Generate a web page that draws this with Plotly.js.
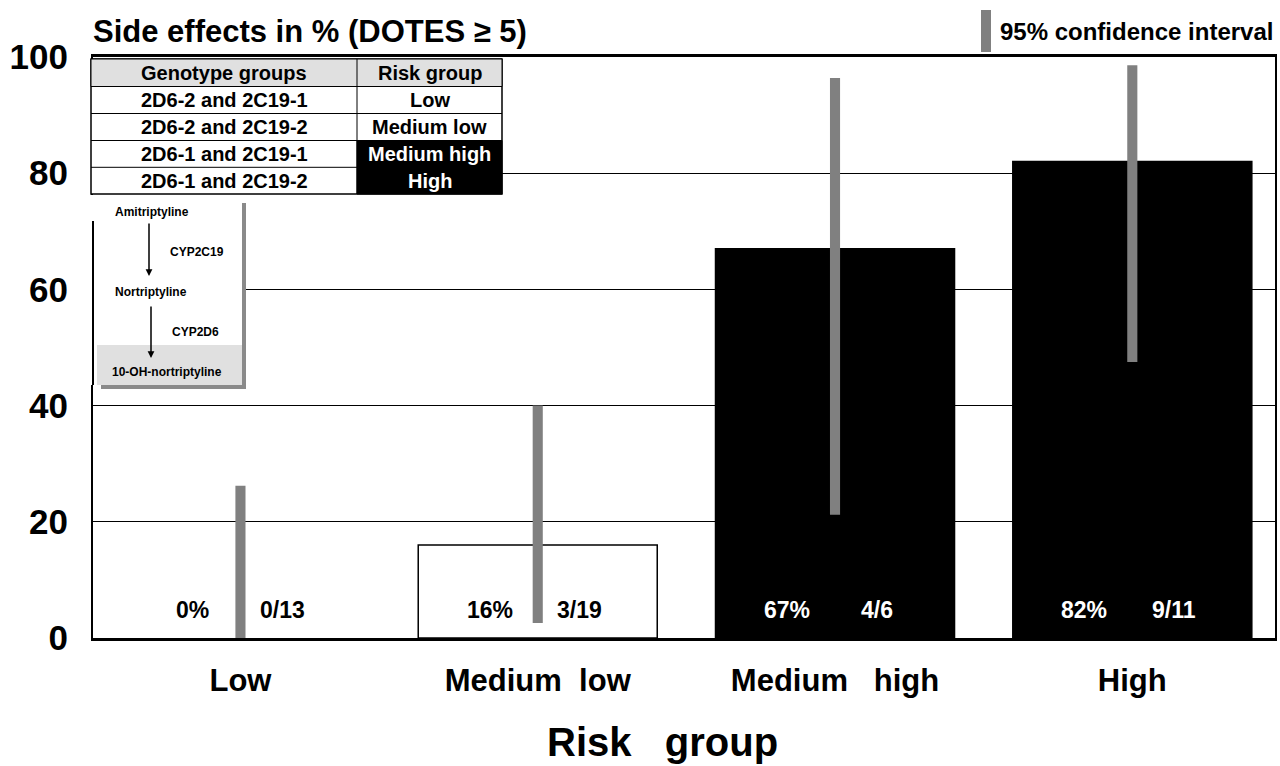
<!DOCTYPE html>
<html>
<head>
<meta charset="utf-8">
<script src="https://cdn.plot.ly/plotly-3.0.1.min.js"></script>
<style>html,body{margin:0;padding:0;background:#fff;}#chart{width:1280px;height:766px;}</style>
</head>
<body>
<div id="chart"></div>
<script>
// ---- data ----
const categories = ["Low", "Medium low", "Medium high", "High"];
const categoryLabels = ["Low", "Medium\u00a0\u00a0low", "Medium\u00a0\u00a0\u00a0high", "High"];
const percentSideEffects = [0, 16, 67, 82];
const ciLower = [0, 2.6, 21.2, 47.5];
const ciUpper = [26.2, 40, 96.4, 98.6];
const percentLabels = ["0%", "16%", "67%", "82%"];
const countLabels = ["0/13", "3/19", "4/6", "9/11"];
const barFill = ["#ffffff", "#ffffff", "#000000", "#000000"];
const labelColor = ["#000000", "#000000", "#ffffff", "#ffffff"];
const genotypeGroups = ["2D6-2 and 2C19-1", "2D6-2 and 2C19-2", "2D6-1 and 2C19-1", "2D6-1 and 2C19-2"];
const riskGroups = ["Low", "Medium low", "Medium high", "High"];
const pathwaySteps = ["Amitriptyline", "Nortriptyline", "10-OH-nortriptyline"];
const pathwayEnzymes = ["CYP2C19", "CYP2D6"];

// ---- geometry helpers (pixel -> paper) ----
const L = 93, R = 1275, T = 57, B = 638;
const px = x => (x - L) / (R - L);
const py = y => (B - y) / (B - T);
const FONT = "Liberation Sans, Arial, sans-serif";

const traces = [
  {
    type: "bar", x: categories, y: percentSideEffects, width: 0.804,
    marker: {color: barFill, line: {color: "#000", width: percentSideEffects.map(v => v > 0 ? 1.5 : 0)}},
    hoverinfo: "x+y", showlegend: false
  },
  {
    type: "bar", x: categories, base: ciLower,
    y: ciUpper.map((u, i) => u - ciLower[i]), width: 0.034,
    marker: {color: "#808080", line: {width: 0}},
    showlegend: false, hoverinfo: "skip"
  }
];

const shapes = [];
const annotations = [];

// bar labels
categories.forEach((c, i) => {
  annotations.push({x: c, y: 0, xref: "x", yref: "y", text: percentLabels[i], showarrow: false,
    xshift: -48, yshift: 28, font: {family: FONT, size: 23, color: labelColor[i], weight: "bold"}});
  annotations.push({x: c, y: 0, xref: "x", yref: "y", text: countLabels[i], showarrow: false,
    xshift: 42, yshift: 28, font: {family: FONT, size: 23, color: labelColor[i], weight: "bold"}});
});

// ---- genotype table ----
const tx0 = 91, txs = 357, tx1 = 502;
const rowsY = [59, 86.5, 113.5, 140.5, 167.3, 194];
shapes.push({type: "rect", xref: "paper", yref: "paper", x0: px(tx0), x1: px(tx1), y0: py(rowsY[5]), y1: py(rowsY[0]),
  fillcolor: "#fff", line: {color: "#000", width: 1.5}, layer: "above"});
shapes.push({type: "rect", xref: "paper", yref: "paper", x0: px(tx0), x1: px(tx1), y0: py(rowsY[1]), y1: py(rowsY[0]),
  fillcolor: "#e0e0e0", line: {color: "#000", width: 1}, layer: "above"});
shapes.push({type: "rect", xref: "paper", yref: "paper", x0: px(txs), x1: px(tx1), y0: py(rowsY[5]), y1: py(rowsY[3]),
  fillcolor: "#000", line: {color: "#000", width: 1}, layer: "above"});
[2, 3].forEach(k => shapes.push({type: "line", xref: "paper", yref: "paper", x0: px(tx0), x1: px(tx1), y0: py(rowsY[k]), y1: py(rowsY[k]),
  line: {color: "#000", width: 1}, layer: "above"}));
shapes.push({type: "line", xref: "paper", yref: "paper", x0: px(tx0), x1: px(txs), y0: py(rowsY[4]), y1: py(rowsY[4]),
  line: {color: "#000", width: 1}, layer: "above"});
shapes.push({type: "line", xref: "paper", yref: "paper", x0: px(txs), x1: px(txs), y0: py(rowsY[5]), y1: py(rowsY[0]),
  line: {color: "#000", width: 1}, layer: "above"});
const colC1 = (tx0 + txs) / 2, colC2 = (txs + tx1) / 2;
const tableFont = (c) => ({family: FONT, size: 20, color: c, weight: "bold"});
annotations.push({xref: "paper", yref: "paper", x: px(colC1), y: py((rowsY[0] + rowsY[1]) / 2), text: "Genotype groups",
  showarrow: false, font: tableFont("#000"), xanchor: "center", yanchor: "middle"});
annotations.push({xref: "paper", yref: "paper", x: px(colC2), y: py((rowsY[0] + rowsY[1]) / 2), text: "Risk group",
  showarrow: false, font: tableFont("#000"), xanchor: "center", yanchor: "middle"});
genotypeGroups.forEach((g, i) => {
  const yc = py((rowsY[i + 1] + rowsY[i + 2]) / 2);
  annotations.push({xref: "paper", yref: "paper", x: px(colC1), y: yc, text: g, showarrow: false,
    font: tableFont("#000"), xanchor: "center", yanchor: "middle"});
  annotations.push({xref: "paper", yref: "paper", x: px(colC2), y: yc, text: riskGroups[i], showarrow: false,
    font: tableFont(i >= 2 ? "#fff" : "#000"), xanchor: "center", yanchor: "middle"});
});

// ---- metabolic pathway inset ----
shapes.push({type: "rect", xref: "paper", yref: "paper", x0: px(101), x1: px(246), y0: py(389), y1: py(203),
  fillcolor: "#8a8a8a", line: {width: 0}, layer: "above"});
shapes.push({type: "rect", xref: "paper", yref: "paper", x0: px(86), x1: px(242), y0: py(385), y1: py(195),
  fillcolor: "#fff", line: {width: 0}, layer: "above"});
shapes.push({type: "line", xref: "paper", yref: "paper", x0: px(93), x1: px(93), y0: py(385), y1: py(221),
  line: {color: "#000", width: 2}, layer: "above"});
shapes.push({type: "rect", xref: "paper", yref: "paper", x0: px(97), x1: px(242), y0: py(385), y1: py(345),
  fillcolor: "#e0e0e0", line: {width: 0}, layer: "above"});
const insetFont = {family: FONT, size: 12, color: "#000", weight: "bold"};
const stepPos = [[113, 212], [113, 292], [110, 372]];
pathwaySteps.forEach((s, i) => annotations.push({xref: "paper", yref: "paper", x: px(stepPos[i][0]), y: py(stepPos[i][1]),
  text: s, showarrow: false, xanchor: "left", yanchor: "middle", font: insetFont}));
const enzPos = [[168, 252], [170, 332]];
pathwayEnzymes.forEach((s, i) => annotations.push({xref: "paper", yref: "paper", x: px(enzPos[i][0]), y: py(enzPos[i][1]),
  text: s, showarrow: false, xanchor: "left", yanchor: "middle", font: insetFont}));
[[149, 222, 276], [151, 305, 358]].forEach(a => annotations.push({xref: "paper", yref: "paper",
  x: px(a[0]), y: py(a[2]), ax: 0, ay: -(a[2] - a[1]), text: "", showarrow: true,
  arrowhead: 2, arrowsize: 0.9, arrowwidth: 1.5, arrowcolor: "#000"}));

// ---- legend for CI ----
shapes.push({type: "rect", xref: "paper", yref: "paper", x0: px(981), x1: px(991), y0: py(52), y1: py(10),
  fillcolor: "#808080", line: {width: 0}});
annotations.push({xref: "paper", yref: "paper", x: px(998), y: py(31), text: "95% confidence interval",
  showarrow: false, xanchor: "left", yanchor: "middle", font: {family: FONT, size: 24, color: "#000", weight: "bold"}});

// ---- axis title ----
annotations.push({xref: "paper", yref: "paper", x: px(662), y: py(742), text: "Risk\u00a0\u00a0\u00a0group",
  showarrow: false, xanchor: "center", yanchor: "middle", font: {family: FONT, size: 40, color: "#000", weight: "bold"}});

const layout = {
  width: 1280, height: 766,
  margin: {l: L, r: 1280 - R, t: T, b: 766 - B, pad: 0},
  paper_bgcolor: "#fff", plot_bgcolor: "#fff",
  barmode: "overlay", showlegend: false,
  title: {text: "Side effects in % (DOTES \u2265 5)", x: 93 / 1280, xanchor: "left", xref: "container",
    y: 1 - 31 / 766, yanchor: "middle", yref: "container",
    font: {family: FONT, size: 31, color: "#000", weight: "bold"}},
  xaxis: {
    type: "category", tickvals: categories, ticktext: categoryLabels, range: [-0.496, 3.48],
    showline: true, linecolor: "#000", linewidth: 3, mirror: true,
    ticks: "", showgrid: false, zeroline: false,
    tickfont: {family: FONT, size: 31, color: "#000", weight: "bold"}, ticklabelstandoff: 13
  },
  yaxis: {
    range: [0, 100], tickvals: [0, 20, 40, 60, 80, 100],
    showline: true, linecolor: "#000", linewidth: 2, mirror: true,
    ticks: "", showgrid: true, gridcolor: "#000", gridwidth: 1, zeroline: false,
    tickfont: {family: FONT, size: 35, color: "#000", weight: "bold"}, ticklabelstandoff: 16
  },
  shapes: shapes, annotations: annotations
};

Plotly.newPlot("chart", traces, layout, {staticPlot: true, displayModeBar: false});
</script>
</body>
</html>
